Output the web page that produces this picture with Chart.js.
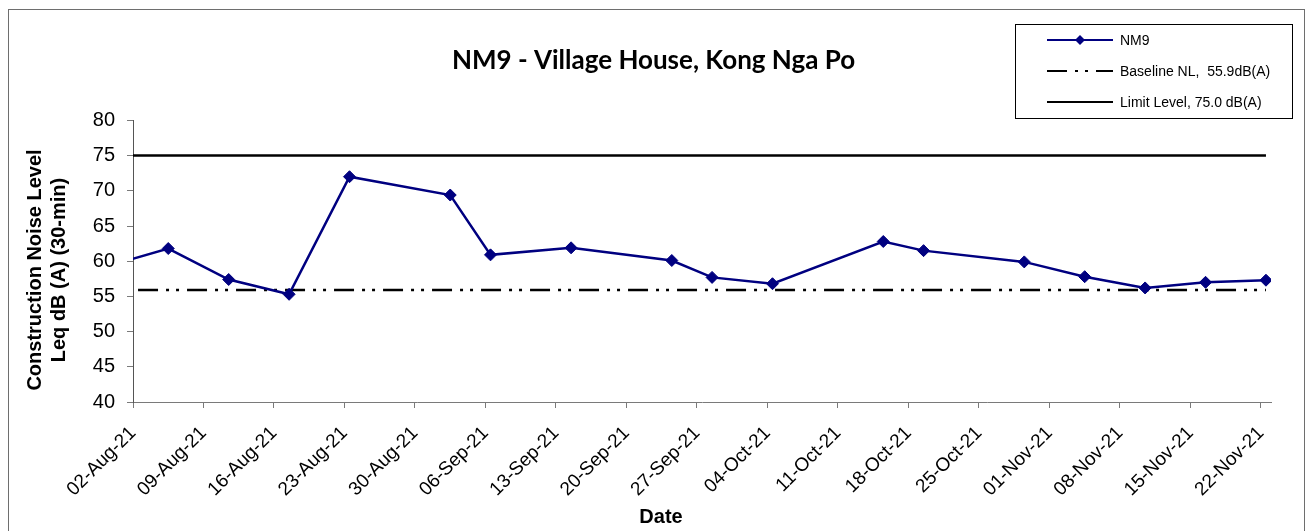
<!DOCTYPE html>
<html>
<head>
<meta charset="utf-8">
<title>NM9 - Village House, Kong Nga Po</title>
<script src="https://cdn.jsdelivr.net/npm/chart.js@4.4.1/dist/chart.umd.min.js"></script>
<style>
  html, body { margin: 0; padding: 0; background: #fff; }
  canvas { display: block; }
</style>
</head>
<body>
<canvas id="noiseChart" width="1307" height="531"></canvas>
<script>
const measureDates = [
  '2021-07-30', '2021-08-05', '2021-08-11', '2021-08-17', '2021-08-23', '2021-09-02',
  '2021-09-06', '2021-09-14', '2021-09-24', '2021-09-28', '2021-10-04', '2021-10-15',
  '2021-10-19', '2021-10-29', '2021-11-04', '2021-11-10', '2021-11-16', '2021-11-22'
]
const measuredLeq = [
  59.3, 61.8, 57.4, 55.3, 72.0, 69.4,
  60.9, 61.9, 60.1, 57.7, 56.8, 62.8,
  61.5, 59.9, 57.8, 56.2, 57.0, 57.3
]

const baselineDates = ['2021-08-02', '2021-11-22']
const baselineLevel = [55.9, 55.9]

const limitDates = ['2021-07-30', '2021-11-22']
const limitLevel = [75.0, 75.0]

const axisStart = '2021-08-02'
const axisEnd = '2021-11-23'
const xTickLabels = [
  '02-Aug-21', '09-Aug-21', '16-Aug-21', '23-Aug-21', '30-Aug-21', '06-Sep-21',
  '13-Sep-21', '20-Sep-21', '27-Sep-21', '04-Oct-21', '11-Oct-21', '18-Oct-21',
  '25-Oct-21', '01-Nov-21', '08-Nov-21', '15-Nov-21', '22-Nov-21'
]
const yTicks = [40, 45, 50, 55, 60, 65, 70, 75, 80]

const seriesLabels = ['NM9', 'Baseline NL,  55.9dB(A)', 'Limit Level, 75.0 dB(A)']
const xTitle = 'Date'
const yTitle = ['Construction Noise Level', 'Leq dB (A) (30-min)']

// days since the axis start; points sit in the middle of their day like Excel does
function dayOf(s) {
  const t = Date.UTC(+s.slice(0, 4), +s.slice(5, 7) - 1, +s.slice(8, 10))
  const t0 = Date.UTC(+axisStart.slice(0, 4), +axisStart.slice(5, 7) - 1, +axisStart.slice(8, 10))
  return (t - t0) / 864e5
}

function toPoints(dates, values) {
  return dates.map((d, i) => ({ x: dayOf(d) + 0.5, y: values[i] }))
}

const AXIS_GREY = '#7a7a7a'
const NAVY = '#000080'
const BASE_DASH = [20, 8, 3, 7, 3, 8]
const CAPTION_FONT = 'bold 20px "Liberation Sans", Arial, sans-serif'

// white page plus the thin outer frame
const framePlugin = {
  id: 'frame',
  beforeDraw(chart) {
    const ctx = chart.ctx
    ctx.save()
    ctx.fillStyle = '#fff'
    ctx.fillRect(0, 0, chart.width, chart.height)
    ctx.strokeStyle = '#6e6e6e'
    ctx.lineWidth = 1
    ctx.strokeRect(8.5, 9.5, 1296, 540)
    ctx.restore()
  }
}

// axis captions sit where Excel put them, not centred on the plot area
const axisCaptions = {
  id: 'axisCaptions',
  afterDraw(chart) {
    const ctx = chart.ctx
    ctx.save()
    ctx.fillStyle = '#000'
    ctx.font = CAPTION_FONT
    ctx.textAlign = 'center'
    ctx.textBaseline = 'middle'
    ctx.fillText(xTitle, 661, 517)

    ctx.translate(35, 270)
    ctx.rotate(-Math.PI / 2)
    yTitle.forEach((line, i) => ctx.fillText(line, 0, i * 24))
    ctx.restore()
  }
}

// boxed legend in the top right corner
const boxLegend = {
  id: 'boxLegend',
  afterDraw(chart) {
    const ctx = chart.ctx
    ctx.save()
    ctx.fillStyle = '#fff'
    ctx.fillRect(1015.5, 24.5, 277, 94)
    ctx.strokeStyle = '#000'
    ctx.lineWidth = 1
    ctx.strokeRect(1015.5, 24.5, 277, 94)

    chart.data.datasets.forEach((ds, i) => {
      const y = 40 + i * 31
      ctx.strokeStyle = ds.borderColor
      ctx.lineWidth = 2
      ctx.setLineDash(ds.borderDash || [])
      ctx.beginPath()
      ctx.moveTo(1047, y)
      ctx.lineTo(1113, y)
      ctx.stroke()
      ctx.setLineDash([])
      if (ds.pointRadius) {
        ctx.fillStyle = ds.pointBackgroundColor
        ctx.beginPath()
        ctx.moveTo(1080, y - 5)
        ctx.lineTo(1085, y)
        ctx.lineTo(1080, y + 5)
        ctx.lineTo(1075, y)
        ctx.closePath()
        ctx.fill()
      }
      ctx.fillStyle = '#000'
      ctx.font = '14px "Liberation Sans", Arial, sans-serif'
      ctx.textBaseline = 'middle'
      ctx.textAlign = 'left'
      ctx.fillText(ds.label, 1120, y + 1)
    })
    ctx.restore()
  }
}

const ctx = document.getElementById('noiseChart').getContext('2d')

new Chart(ctx, {
  type: 'line',
  data: {
    datasets: [
      {
        label: seriesLabels[0],
        data: toPoints(measureDates, measuredLeq),
        borderColor: NAVY,
        borderWidth: 2.5,
        pointStyle: 'rectRot',
        pointRadius: 6,
        pointBackgroundColor: NAVY,
        pointBorderColor: NAVY,
        pointBorderWidth: 1,
        tension: 0
      },
      {
        label: seriesLabels[1],
        data: toPoints(baselineDates, baselineLevel),
        borderColor: '#000',
        borderWidth: 2.5,
        borderDash: BASE_DASH,
        pointRadius: 0
      },
      {
        label: seriesLabels[2],
        data: toPoints(limitDates, limitLevel),
        borderColor: '#000',
        borderWidth: 2.5,
        pointRadius: 0
      }
    ]
  },
  options: {
    responsive: false,
    animation: false,
    devicePixelRatio: 1,
    layout: {
      padding: { top: 0, right: 18, bottom: 0, left: 18 }
    },
    plugins: {
      legend: { display: false },
      tooltip: { enabled: false },
      title: {
        display: true,
        text: 'NM9 - Village House, Kong Nga Po',
        color: '#000',
        font: { family: 'Lato', size: 26, weight: 'bold', lineHeight: 1.2 },
        padding: { top: 45, bottom: 44.2 }
      }
    },
    scales: {
      x: {
        type: 'linear',
        min: dayOf(axisStart),
        max: dayOf(axisEnd),
        afterBuildTicks(scale) {
          scale.ticks = xTickLabels.map((_, i) => ({ value: i * 7 }))
        },
        afterFit(scale) {
          scale.height = 129
          // leaves room on the right so the plot stops short of the frame
          scale.paddingRight = 36
        },
        ticks: {
          autoSkip: false,
          maxRotation: 45,
          minRotation: 45,
          padding: 14,
          color: '#000',
          font: { family: '"Liberation Sans", Arial', size: 19 },
          callback: (value) => xTickLabels[Math.round(value / 7)]
        },
        grid: { drawOnChartArea: false, drawTicks: true, tickLength: 6, color: AXIS_GREY },
        border: { color: AXIS_GREY, width: 1 }
      },
      y: {
        min: 40,
        max: 80,
        afterBuildTicks(scale) {
          scale.ticks = yTicks.map(v => ({ value: v }))
        },
        afterFit(scale) {
          scale.width = 115
        },
        ticks: {
          padding: 12,
          color: '#000',
          font: { family: '"Liberation Sans", Arial', size: 20 }
        },
        grid: { drawOnChartArea: false, drawTicks: true, tickLength: 6, color: AXIS_GREY },
        border: { color: '#555', width: 1 }
      }
    }
  },
  plugins: [framePlugin, axisCaptions, boxLegend]
})
</script>
</body>
</html>
